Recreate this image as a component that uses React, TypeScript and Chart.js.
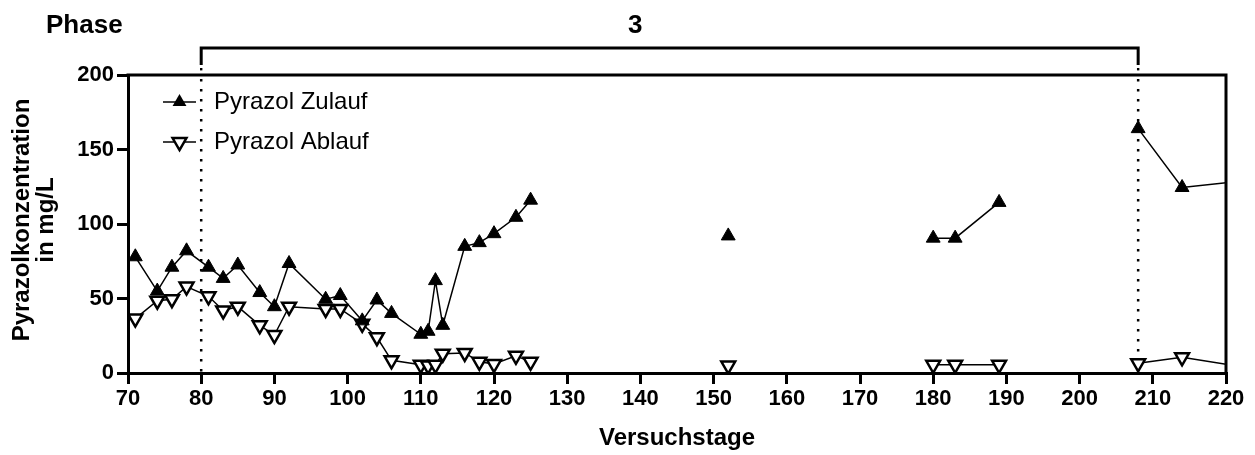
import React, { useEffect, useRef } from 'react';
import { Chart, registerables } from 'chart.js';

Chart.register(...registerables);

// Versuchstage (null values break the line where no measurement series continues)
const days = [71, 74, 76, 78, 81, 83, 85, 88, 90, 92, 97, 99, 102, 104, 106, 110, 111, 112, 113, 116, 118, 120, 123, 125, 140, 152, 165, 180, 183, 189, 200, 208, 214, 222];
const zulauf = [78, 55, 71, 82, 71, 63.5, 72.5, 54, 44.5, 73.5, 49.5, 52, 35, 49, 40, 26, 28, 62, 32, 85, 87.5, 93.5, 104.5, 116, null, 92, null, 90.5, 90.5, 114.5, null, 164, 124.5, 128.7];
const ablauf = [36.5, 48.5, 49.5, 58, 51.5, 42, 44.5, 32, 25.5, 44.5, 43, 43, 33, 24, 8.5, 5.5, 5, 5.5, 13, 13.5, 7.5, 6, 11.5, 7.5, null, 5, null, 5.5, 5.5, 5.5, null, 6.5, 10.5, 4.3];

const seriesLabels = ['Pyrazol Zulauf', 'Pyrazol Ablauf'];
const phaseBounds = [80, 208];
const phaseLabel = '3';
const phaseLabelDay = 139.3;
const xRange = [70, 220];
const yRange = [0, 200];
const xTitle = 'Versuchstage';
const yTitle = ['Pyrazolkonzentration', 'in mg/L'];

const FONT = '"Liberation Sans", Arial, Helvetica, sans-serif';
const MARK_R = 8;

function tri(ctx: CanvasRenderingContext2D, x: number, y: number, r: number, down: boolean, filled: boolean) {
  ctx.save();
  ctx.beginPath();
  const s = down ? -1 : 1;
  ctx.moveTo(x, y - s * r);
  ctx.lineTo(x + r * Math.sin((2 * Math.PI) / 3), y + s * r / 2);
  ctx.lineTo(x - r * Math.sin((2 * Math.PI) / 3), y + s * r / 2);
  ctx.closePath();
  if (filled) {
    ctx.fillStyle = '#000';
    ctx.fill();
  } else {
    ctx.fillStyle = '#fff';
    ctx.fill();
    ctx.lineWidth = 2.5;
    ctx.strokeStyle = '#000';
    ctx.stroke();
  }
  ctx.restore();
}

const overlay = {
  id: 'overlay',
  beforeDatasetsDraw(chart: any) {
    const { ctx, chartArea: a, scales } = chart;
    const x = scales.x;
    ctx.save();
    ctx.strokeStyle = '#000';
    ctx.lineWidth = 2.5;
    ctx.setLineDash([2.5, 7.5]);
    for (const d of phaseBounds) {
      const px = x.getPixelForValue(d);
      ctx.beginPath();
      ctx.moveTo(px, a.top + 4);
      ctx.lineTo(px, a.bottom);
      ctx.stroke();
    }
    ctx.restore();
  },
  afterDraw(chart: any) {
    const { ctx, chartArea: a, scales } = chart;
    const x = scales.x;
    ctx.save();
    ctx.strokeStyle = '#000';
    ctx.lineWidth = 3;
    // top and right frame
    ctx.beginPath();
    ctx.moveTo(a.left - 1.5, a.top);
    ctx.lineTo(a.right, a.top);
    ctx.lineTo(a.right, a.bottom + 1.5);
    ctx.stroke();

    // phase bracket
    const x1 = x.getPixelForValue(phaseBounds[0]);
    const x2 = x.getPixelForValue(phaseBounds[1]);
    ctx.beginPath();
    ctx.moveTo(x1, 65);
    ctx.lineTo(x1, 48);
    ctx.lineTo(x2, 48);
    ctx.lineTo(x2, 65);
    ctx.stroke();
    ctx.fillStyle = '#000';
    ctx.fillRect(x1 - 1.2, 68, 2.4, 2.4);
    ctx.fillRect(x2 - 1.2, 68, 2.4, 2.4);

    // texts
    ctx.fillStyle = '#000';
    ctx.font = `bold 26px ${FONT}`;
    ctx.textBaseline = 'middle';
    ctx.textAlign = 'left';
    ctx.fillText('Phase', 46, 26);
    ctx.textAlign = 'center';
    ctx.fillText(phaseLabel, x.getPixelForValue(phaseLabelDay), 26);

    // y title
    ctx.save();
    ctx.translate(0, (a.top + a.bottom) / 2 - 4);
    ctx.rotate(-Math.PI / 2);
    ctx.font = `bold 24px ${FONT}`;
    ctx.textAlign = 'center';
    ctx.textBaseline = 'middle';
    ctx.fillText(yTitle[0], 0, 22);
    ctx.fillText(yTitle[1], 0, 46);
    ctx.restore();

    // x title
    ctx.font = `bold 24px ${FONT}`;
    ctx.textAlign = 'center';
    ctx.textBaseline = 'middle';
    ctx.fillText(xTitle, (a.left + a.right) / 2, 438);

    // legend
    const rows = [102, 142];
    ctx.font = `24px ${FONT}`;
    ctx.textAlign = 'left';
    rows.forEach((ry, i) => {
      ctx.lineWidth = 1.5;
      ctx.strokeStyle = '#000';
      ctx.beginPath();
      ctx.moveTo(163, ry);
      ctx.lineTo(196, ry);
      ctx.stroke();
      tri(ctx, 179.5, ry, MARK_R, i === 1, i === 0);
      ctx.fillStyle = '#000';
      ctx.fillText(seriesLabels[i], 214, ry);
    });
    ctx.restore();
  },
};

export default function App() {
  const ref = useRef<HTMLCanvasElement | null>(null);
  useEffect(() => {
    document.body.style.margin = '0';
    document.body.style.overflow = 'hidden';
    const canvas = ref.current!;
    const axisCommon = {
      grid: {
        display: true,
        drawOnChartArea: false,
        drawTicks: true,
        tickLength: 11,
        tickWidth: 3,
        tickColor: '#000',
        lineWidth: 3,
        color: '#000',
      },
      border: { display: true, width: 3, color: '#000' },
    };
    const chart = new Chart(canvas, {
      type: 'line',
      data: {
        datasets: [
          {
            label: seriesLabels[0],
            data: days.map((d, i) => ({ x: d, y: zulauf[i] })),
            borderColor: '#000',
            borderWidth: 1.5,
            pointStyle: 'triangle',
            pointRadius: MARK_R,
            pointBackgroundColor: '#000',
            pointBorderColor: '#000',
            pointBorderWidth: 1,
            spanGaps: false,
          },
          {
            label: seriesLabels[1],
            data: days.map((d, i) => ({ x: d, y: ablauf[i] })),
            borderColor: '#000',
            borderWidth: 1.5,
            pointStyle: 'triangle',
            pointRotation: 180,
            pointRadius: MARK_R,
            pointBackgroundColor: '#fff',
            pointBorderColor: '#000',
            pointBorderWidth: 2.5,
            spanGaps: false,
          },
        ],
      },
      options: {
        responsive: false,
        animation: false,
        events: [],
        layout: { padding: { left: 0, top: 75, right: 29, bottom: 0 } },
        plugins: { legend: { display: false }, tooltip: { enabled: false } },
        scales: {
          x: {
            type: 'linear',
            min: xRange[0],
            max: xRange[1],
            ...axisCommon,
            ticks: {
              stepSize: 10,
              color: '#000',
              font: { family: FONT, size: 22, weight: 'bold' },
              padding: 2,
              maxRotation: 0,
              autoSkip: false,
            },
            afterFit: (s: any) => {
              s.height = 82;
            },
          },
          y: {
            type: 'linear',
            min: yRange[0],
            max: yRange[1],
            ...axisCommon,
            ticks: {
              stepSize: 50,
              color: '#000',
              font: { family: FONT, size: 22, weight: 'bold' },
              padding: 3,
            },
            afterFit: (s: any) => {
              s.width = 128;
            },
          },
        },
      },
      plugins: [overlay],
    } as any);
    return () => chart.destroy();
  }, []);
  return <canvas ref={ref} width={1255} height={455} style={{ display: 'block' }} />;
}
